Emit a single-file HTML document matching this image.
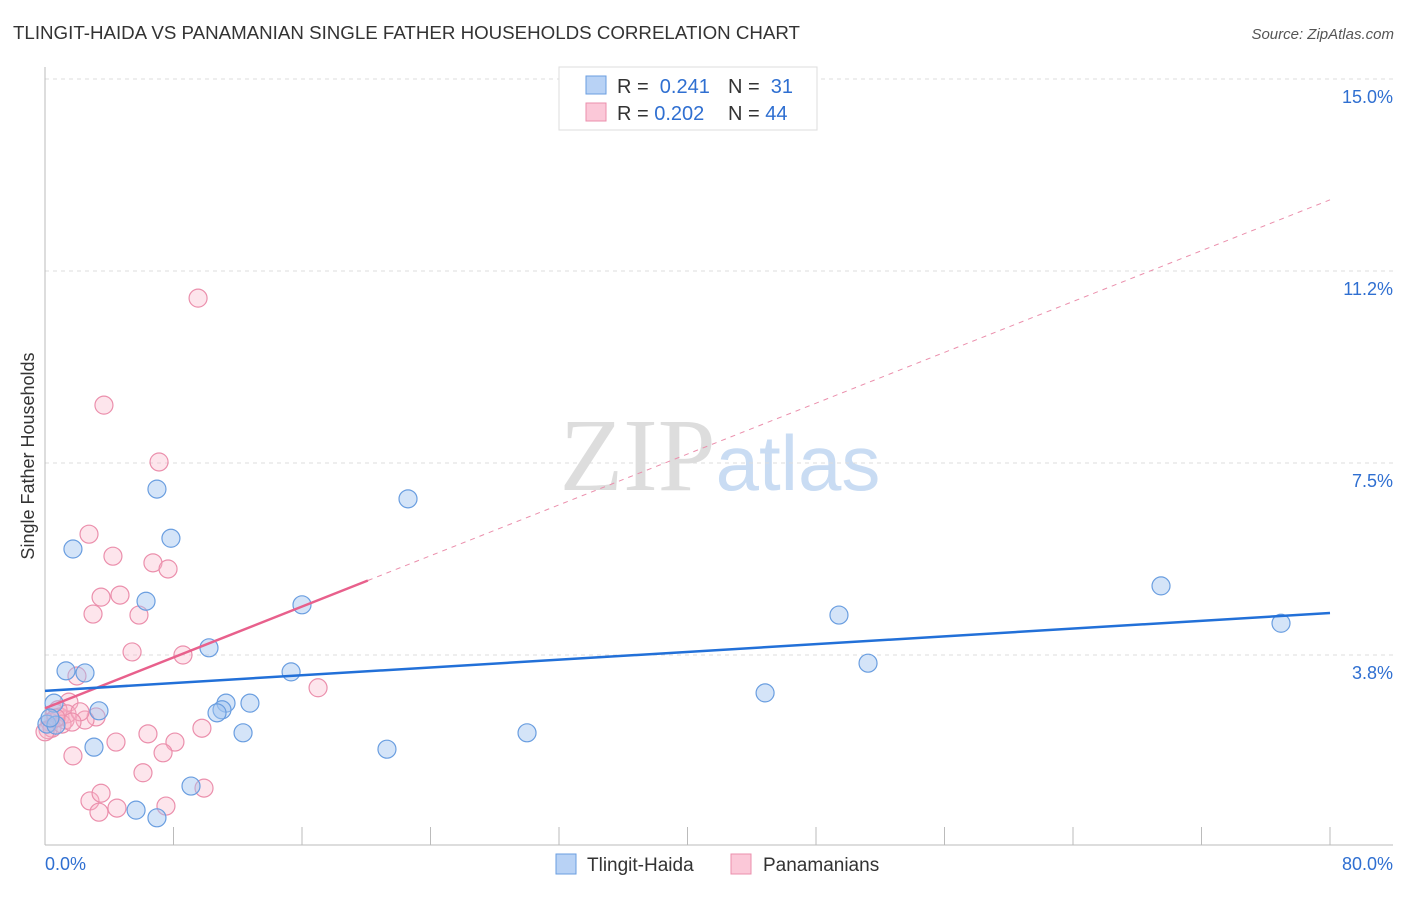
<!DOCTYPE html>
<html><head><meta charset="utf-8"><style>
body{margin:0;background:#fff;font-family:"Liberation Sans",sans-serif}
</style></head><body>
<svg id="chart" width="1406" height="892" xmlns="http://www.w3.org/2000/svg" font-family="Liberation Sans, sans-serif">
<text x="13" y="39" font-size="18" fill="#333" textLength="787" lengthAdjust="spacingAndGlyphs">TLINGIT-HAIDA VS PANAMANIAN SINGLE FATHER HOUSEHOLDS CORRELATION CHART</text>
<text x="1394" y="39" font-size="15" fill="#555" text-anchor="end" font-style="italic">Source: ZipAtlas.com</text>
<text x="720" y="490" font-size="104" text-anchor="middle" fill="#ddd" font-family="Liberation Serif, serif">ZIP<tspan fill="#c9dcf3" font-family="Liberation Sans, sans-serif" font-size="78">atlas</tspan></text>
<text transform="translate(34,456) rotate(-90)" font-size="18" fill="#333" text-anchor="middle">Single Father Households</text>
<g id="grid"></g><g id="marks"></g>
<g>
<rect x="559" y="67" width="258" height="63" fill="#fff" stroke="#ddd"/>
<rect x="586" y="76" width="20" height="18" fill="#b8d2f5" stroke="#6a9ee0"/>
<rect x="586" y="103" width="20" height="18" fill="#fbc8d8" stroke="#eb8fac"/>
<text x="617" y="93" font-size="20" fill="#333">R = <tspan fill="#2f6fd1">&#160;0.241</tspan><tspan x="728">N = </tspan><tspan fill="#2f6fd1">&#160;31</tspan></text>
<text x="617" y="120" font-size="20" fill="#333">R = <tspan fill="#2f6fd1">0.202</tspan><tspan x="728">N = </tspan><tspan fill="#2f6fd1">44</tspan></text>
</g>
<g>
<rect x="556" y="854" width="20" height="20" fill="#b8d2f5" stroke="#6a9ee0"/>
<text x="587" y="871" font-size="19" fill="#333">Tlingit-Haida</text>
<rect x="731" y="854" width="20" height="20" fill="#fbc8d8" stroke="#eb8fac"/>
<text x="763" y="871" font-size="19" fill="#333">Panamanians</text>
</g>
</svg>
<script>
const blueX=[1.74,6.97,7.84,6.29,22.60,16.00,10.21,1.31,2.49,15.32,0.56,3.36,11.27,11.02,10.71,12.76,12.33,3.05,21.29,30.01,9.09,5.67,6.97,44.83,49.43,51.24,69.48,76.95,0.12,0.68,0.31];
const blueY=[5.82,6.99,6.03,4.80,6.80,4.73,3.89,3.44,3.40,3.42,2.81,2.66,2.81,2.68,2.62,2.81,2.23,1.95,1.91,2.23,1.19,0.72,0.57,3.01,4.53,3.59,5.10,4.37,2.40,2.38,2.52];
const pinkX=[9.53,3.67,7.10,2.74,4.23,6.72,7.66,3.49,4.67,2.99,5.85,5.42,8.59,17.00,1.99,1.49,3.18,2.49,9.77,6.41,4.42,8.09,7.35,1.74,6.10,2.80,3.49,3.36,4.48,7.53,9.90,0.62,0.93,1.25,0.31,0.19,0.81,1.37,2.18,0.44,1.06,0.00,1.68,0.68];
const pinkY=[10.72,8.63,7.52,6.11,5.68,5.55,5.43,4.88,4.92,4.55,4.53,3.81,3.75,3.11,3.34,2.83,2.54,2.48,2.32,2.21,2.05,2.05,1.84,1.78,1.45,0.90,1.05,0.68,0.76,0.80,1.15,2.62,2.54,2.48,2.44,2.29,2.68,2.60,2.64,2.32,2.40,2.25,2.44,2.52];
const yTicks=[3.75,7.5,11.25,15];
const yTickLabels=["3.8%","7.5%","11.2%","15.0%"];
const xTicks=[0,8,16,24,32,40,48,56,64,72,80];
const blueTrend=[3.05,4.57];
const pinkTrend=[2.71,12.64];
const pinkSolidEnd=20.1;
const NS="http://www.w3.org/2000/svg";
const sx=v=>45+v/80*1285, sy=v=>847-v/3.75*192;
function mk(tag,attrs,parent){const e=document.createElementNS(NS,tag);for(const k in attrs)e.setAttribute(k,attrs[k]);parent.appendChild(e);return e;}
const grid=document.getElementById('grid'), marks=document.getElementById('marks');
yTicks.forEach((t,i)=>{
 const l=mk('line',{x1:45,x2:1393,y1:sy(t),y2:sy(t),stroke:'#ddd','stroke-dasharray':'4,4'},grid);
 
 
 const tx=mk('text',{x:1393,y:sy(t)+24,'font-size':18,fill:'#2f6fd1','text-anchor':'end'},grid);
 tx.textContent=yTickLabels[i];
 
 
});
const ax=mk('line',{x1:45,x2:45,y1:67,y2:845,stroke:'#bbb'},grid);


const bx=mk('line',{x1:45,x2:1393,y1:845,y2:845,stroke:'#bbb'},grid);


xTicks.forEach(t=>{const l=mk('line',{x1:sx(t),x2:sx(t),y1:827,y2:845,stroke:'#bbb'},grid);
 
 });
[[0,'0.0%','start',45],[80,'80.0%','end',1393]].forEach(a=>{const t=mk('text',{x:a[3],y:870,'font-size':18,fill:'#2f6fd1','text-anchor':a[2]},grid);t.textContent=a[1];
 
 });
function pts(X,Y,fill,stroke,name){X.forEach((x,i)=>{const c=mk('circle',{cx:sx(x),cy:sy(Y[i]),r:9,fill:fill,stroke:stroke,'stroke-width':1.2},marks);
 
 });}
pts(pinkX,pinkY,'rgba(248,180,200,0.35)','#eb8fac','panamanian-point');
pts(blueX,blueY,'rgba(160,195,240,0.45)','#6a9ee0','tlingit-haida-point');
const pAt=x=>pinkTrend[0]+(pinkTrend[1]-pinkTrend[0])*x/80;
const pd=mk('line',{x1:sx(pinkSolidEnd),y1:sy(pAt(pinkSolidEnd)),x2:sx(80),y2:sy(pinkTrend[1]),stroke:'#eb8fac','stroke-width':1,'stroke-dasharray':'5,5'},marks);


const ps=mk('line',{x1:sx(0),y1:sy(pinkTrend[0]),x2:sx(pinkSolidEnd),y2:sy(pAt(pinkSolidEnd)),stroke:'#e8608c','stroke-width':2.5},marks);


const bl=mk('line',{x1:sx(0),y1:sy(blueTrend[0]),x2:sx(80),y2:sy(blueTrend[1]),stroke:'#2270d8','stroke-width':2.5},marks);


</script>
</body></html>
